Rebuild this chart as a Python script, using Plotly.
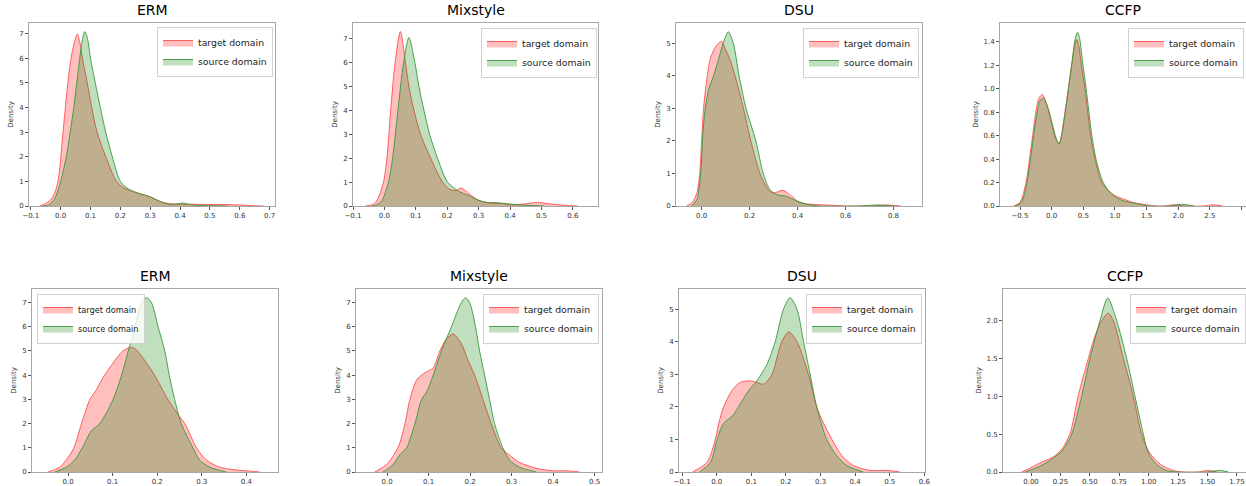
import plotly.graph_objects as go

W, H = 1246, 486

titles = ["ERM", "Mixstyle", "DSU", "CCFP", "ERM", "Mixstyle", "DSU", "CCFP"]
legend_names = ["target domain", "source domain"]

# ---- Panel 1: ERM (top) ----
erm1_tgt_x = [-0.07, -0.05, -0.03, -0.015, -0.005, 0.005, 0.015, 0.025, 0.035, 0.045, 0.056, 0.065, 0.073, 0.089, 0.104, 0.122, 0.151, 0.187, 0.21, 0.237, 0.265, 0.298, 0.33, 0.36, 0.4, 0.45, 0.5, 0.55, 0.6, 0.65, 0.68]
erm1_tgt_y = [0, 0.1, 0.3, 0.7, 1.3, 2.6, 3.9, 5.1, 6.0, 6.6, 6.98, 6.6, 6.0, 5.0, 4.0, 3.0, 2.0, 1.0, 0.75, 0.6, 0.5, 0.38, 0.2, 0.1, 0.08, 0.07, 0.06, 0.06, 0.04, 0.01, 0]
erm1_src_x = [-0.06, -0.04, -0.02, 0.0, 0.01, 0.019, 0.032, 0.044, 0.054, 0.064, 0.072, 0.081, 0.09, 0.1, 0.116, 0.133, 0.151, 0.173, 0.2, 0.226, 0.265, 0.298, 0.34, 0.37, 0.39, 0.41, 0.43, 0.47, 0.52, 0.56]
erm1_src_y = [0, 0.05, 0.3, 1.0, 1.5, 2.0, 3.0, 4.0, 5.0, 6.0, 6.7, 7.08, 6.8, 6.0, 5.0, 4.0, 3.0, 2.0, 1.0, 0.7, 0.5, 0.38, 0.15, 0.06, 0.08, 0.12, 0.06, 0.02, 0.01, 0]

# ---- Panel 2: Mixstyle (top) ----
mix1_tgt_x = [-0.06, -0.04, -0.025, -0.003, 0.008, 0.02, 0.034, 0.051, 0.067, 0.078, 0.094, 0.115, 0.147, 0.185, 0.207, 0.228, 0.244, 0.271, 0.298, 0.336, 0.379, 0.4, 0.454, 0.487, 0.519, 0.573, 0.615]
mix1_tgt_y = [0, 0.05, 0.2, 1.0, 2.0, 4.0, 6.0, 7.3, 6.0, 5.0, 4.0, 3.0, 2.0, 1.0, 0.7, 0.65, 0.75, 0.5, 0.25, 0.12, 0.1, 0.05, 0.1, 0.15, 0.1, 0.03, 0]
mix1_src_x = [-0.04, -0.025, -0.009, 0.013, 0.026, 0.043, 0.061, 0.078, 0.097, 0.11, 0.126, 0.144, 0.169, 0.201, 0.239, 0.266, 0.298, 0.325, 0.357, 0.4, 0.454, 0.51]
mix1_src_y = [0, 0.05, 0.2, 1.0, 2.0, 4.0, 6.0, 7.05, 6.0, 5.0, 4.0, 3.0, 2.0, 1.0, 0.6, 0.45, 0.25, 0.15, 0.14, 0.08, 0.03, 0]

# ---- Panel 3: DSU (top) ----
dsu1_tgt_x = [-0.063, -0.04, -0.02, -0.008, 0.0, 0.008, 0.02, 0.035, 0.055, 0.07, 0.083, 0.1, 0.118, 0.139, 0.174, 0.205, 0.243, 0.278, 0.3, 0.34, 0.375, 0.41, 0.465, 0.55, 0.6, 0.7, 0.77, 0.83]
dsu1_tgt_y = [0, 0.1, 0.4, 1.0, 2.0, 3.0, 3.8, 4.5, 4.85, 5.0, 5.05, 4.8, 4.5, 4.0, 3.0, 2.0, 1.0, 0.5, 0.4, 0.48, 0.3, 0.1, 0.05, 0.02, 0, 0, 0.03, 0]
dsu1_src_x = [-0.042, -0.02, -0.005, 0.005, 0.015, 0.03, 0.05, 0.07, 0.09, 0.111, 0.132, 0.156, 0.185, 0.226, 0.257, 0.285, 0.313, 0.354, 0.382, 0.44, 0.49, 0.65, 0.73, 0.8]
dsu1_src_y = [0, 0.2, 0.9, 2.2, 3.0, 3.6, 4.0, 4.5, 5.0, 5.35, 5.0, 4.0, 3.0, 2.0, 1.0, 0.5, 0.35, 0.3, 0.2, 0.05, 0, 0, 0.03, 0]

# ---- Panel 4: CCFP (top) ----
ccfp1_tgt_x = [-0.6, -0.5, -0.405, -0.35, -0.3, -0.25, -0.2, -0.147, -0.08, 0.0, 0.06, 0.116, 0.16, 0.21, 0.263, 0.316, 0.36, 0.395, 0.43, 0.47, 0.526, 0.616, 0.684, 0.79, 0.92, 1.03, 1.13, 1.29, 1.5, 1.66, 1.8, 1.92, 2.1, 2.4, 2.55, 2.7]
ccfp1_tgt_y = [0, 0.03, 0.2, 0.4, 0.6, 0.8, 0.92, 0.95, 0.87, 0.7, 0.58, 0.53, 0.62, 0.8, 1.0, 1.2, 1.36, 1.42, 1.36, 1.2, 1.0, 0.6, 0.4, 0.2, 0.12, 0.08, 0.06, 0.03, 0.01, 0, 0, 0.01, 0, 0, 0.01, 0]
ccfp1_src_x = [-0.58, -0.48, -0.39, -0.335, -0.285, -0.235, -0.185, -0.13, -0.06, 0.02, 0.07, 0.12, 0.165, 0.215, 0.27, 0.325, 0.37, 0.41, 0.445, 0.49, 0.545, 0.635, 0.7, 0.815, 0.95, 1.1, 1.34, 1.55, 1.85, 2.05, 2.25]
ccfp1_src_y = [0, 0.03, 0.2, 0.4, 0.6, 0.78, 0.9, 0.92, 0.84, 0.68, 0.58, 0.53, 0.62, 0.8, 1.02, 1.24, 1.42, 1.48, 1.42, 1.22, 1.0, 0.6, 0.4, 0.2, 0.1, 0.05, 0.02, 0, 0, 0.015, 0]

# ---- Panel 5: ERM (bottom) ----
erm2_tgt_x = [-0.045, -0.019, -0.004, 0.013, 0.03, 0.049, 0.06, 0.082, 0.101, 0.123, 0.142, 0.153, 0.176, 0.194, 0.224, 0.25, 0.262, 0.288, 0.31, 0.34, 0.37, 0.4, 0.43]
erm2_tgt_y = [0, 0.2, 0.5, 1.0, 2.0, 3.0, 3.3, 4.0, 4.5, 5.0, 5.15, 5.05, 4.5, 4.0, 3.0, 2.3, 2.0, 1.0, 0.5, 0.2, 0.1, 0.05, 0]
erm2_src_x = [-0.03, -0.004, 0.015, 0.032, 0.052, 0.071, 0.101, 0.12, 0.135, 0.15, 0.165, 0.176, 0.187, 0.202, 0.217, 0.227, 0.239, 0.254, 0.28, 0.295, 0.318, 0.355]
erm2_src_y = [0, 0.2, 0.5, 1.0, 1.7, 2.0, 3.0, 4.0, 5.0, 6.0, 7.0, 7.2, 7.0, 6.0, 5.0, 4.0, 3.0, 2.0, 1.0, 0.5, 0.2, 0]

# ---- Panel 6: Mixstyle (bottom) ----
mix2_tgt_x = [-0.03, -0.002, 0.026, 0.043, 0.055, 0.071, 0.091, 0.111, 0.127, 0.143, 0.159, 0.179, 0.195, 0.211, 0.231, 0.251, 0.275, 0.295, 0.319, 0.36, 0.4, 0.432, 0.464]
mix2_tgt_y = [0, 0.3, 1.0, 2.0, 3.0, 3.8, 4.1, 4.3, 5.0, 5.5, 5.7, 5.3, 4.6, 4.0, 3.0, 2.0, 1.0, 0.7, 0.4, 0.15, 0.05, 0.05, 0]
mix2_src_x = [-0.01, 0.014, 0.03, 0.047, 0.067, 0.083, 0.095, 0.111, 0.131, 0.155, 0.179, 0.189, 0.199, 0.213, 0.223, 0.235, 0.247, 0.259, 0.279, 0.295, 0.319, 0.36]
mix2_src_y = [0, 0.3, 0.7, 1.0, 2.0, 3.0, 3.3, 4.0, 5.0, 6.0, 7.0, 7.2, 7.0, 6.0, 5.0, 4.0, 3.0, 2.0, 1.0, 0.5, 0.2, 0]

# ---- Panel 7: DSU (bottom) ----
dsu2_tgt_x = [-0.07, -0.028, -0.004, 0.006, 0.02, 0.044, 0.068, 0.097, 0.116, 0.136, 0.16, 0.174, 0.188, 0.208, 0.232, 0.265, 0.289, 0.309, 0.333, 0.362, 0.395, 0.443, 0.491, 0.53]
dsu2_tgt_y = [0, 0.3, 1.0, 1.5, 2.0, 2.5, 2.75, 2.8, 2.75, 2.7, 3.0, 3.5, 4.0, 4.3, 4.0, 3.0, 2.0, 1.5, 1.0, 0.5, 0.2, 0.05, 0.05, 0]
dsu2_src_x = [-0.05, -0.018, 0.001, 0.02, 0.044, 0.063, 0.092, 0.116, 0.145, 0.169, 0.193, 0.212, 0.232, 0.251, 0.27, 0.289, 0.318, 0.347, 0.376, 0.424]
dsu2_src_y = [0, 0.3, 1.0, 1.5, 1.7, 2.0, 2.5, 2.8, 3.3, 4.0, 5.0, 5.35, 5.0, 4.0, 3.0, 2.0, 1.0, 0.5, 0.2, 0]

# ---- Panel 8: CCFP (bottom) ----
ccfp2_tgt_x = [-0.08, -0.01, 0.048, 0.119, 0.19, 0.26, 0.33, 0.4, 0.487, 0.544, 0.6, 0.657, 0.7, 0.785, 0.87, 0.94, 1.01, 1.1, 1.21, 1.295, 1.42, 1.5, 1.58]
ccfp2_tgt_y = [0, 0.05, 0.1, 0.15, 0.2, 0.3, 0.5, 1.0, 1.5, 1.8, 2.0, 2.1, 2.0, 1.5, 1.0, 0.5, 0.25, 0.1, 0.02, 0, 0, 0.02, 0]
ccfp2_src_x = [-0.05, 0.034, 0.105, 0.204, 0.275, 0.346, 0.43, 0.501, 0.586, 0.652, 0.728, 0.813, 0.884, 0.955, 0.997, 1.068, 1.15, 1.24, 1.5, 1.6, 1.68]
ccfp2_src_y = [0, 0.05, 0.1, 0.2, 0.3, 0.5, 1.0, 1.5, 2.0, 2.3, 2.0, 1.5, 1.0, 0.5, 0.25, 0.1, 0.02, 0, 0, 0.02, 0]

panels = [
    (erm1_tgt_x, erm1_tgt_y, erm1_src_x, erm1_src_y),
    (mix1_tgt_x, mix1_tgt_y, mix1_src_x, mix1_src_y),
    (dsu1_tgt_x, dsu1_tgt_y, dsu1_src_x, dsu1_src_y),
    (ccfp1_tgt_x, ccfp1_tgt_y, ccfp1_src_x, ccfp1_src_y),
    (erm2_tgt_x, erm2_tgt_y, erm2_src_x, erm2_src_y),
    (mix2_tgt_x, mix2_tgt_y, mix2_src_x, mix2_src_y),
    (dsu2_tgt_x, dsu2_tgt_y, dsu2_src_x, dsu2_src_y),
    (ccfp2_tgt_x, ccfp2_tgt_y, ccfp2_src_x, ccfp2_src_y),
]

# ---- layout (pixel boxes of each axes: left, right, top, bottom) ----
boxes = [
    (29, 275, 23, 206), (353, 598, 23, 206), (676, 922, 23, 206), (1000, 1246, 23, 206),
    (32, 278, 289, 472), (356, 602, 289, 472), (679, 925, 289, 472), (1003, 1246, 289, 472),
]
xranges = [(-0.106, 0.718), (-0.1, 0.68), (-0.107, 0.919), (-0.816, 3.07),
           (-0.081, 0.471), (-0.075, 0.518), (-0.109, 0.602), (-0.238, 1.827)]
yranges = [(0, 7.43), (0, 7.66), (0, 5.62), (0, 1.56), (0, 7.56), (0, 7.56), (0, 5.62), (0, 2.42)]
xticks = [(-0.1, 0.1, ".1f"), (-0.1, 0.1, ".1f"), (0.0, 0.2, ".1f"), (-0.5, 0.5, ".1f"),
          (0.0, 0.1, ".1f"), (0.0, 0.1, ".1f"), (-0.1, 0.1, ".1f"), (0.0, 0.25, ".2f")]
yticks = [(1, "d"), (1, "d"), (1, "d"), (0.2, ".1f"), (1, "d"), (1, "d"), (1, "d"), (0.5, ".1f")]
legend_boxes = [(157, 27), (481, 28), (803, 28), (1128, 28), (37, 294), (483, 294), (806, 294), (1130, 294)]
legend_sizes = [9.3, 9.3, 9.3, 9.3, 8.2, 9.3, 9.3, 9.3]

RED_FILL = "rgba(255,0,0,0.25)"
GREEN_FILL = "rgba(0,128,0,0.25)"
RED_LINE = "rgba(255,80,80,0.9)"
GREEN_LINE = "rgba(60,150,60,0.9)"
SPINE = "#a6a6a6"
FONT = "DejaVu Sans"

fig = go.Figure()
layout = dict(
    width=W, height=H, margin=dict(l=0, r=0, t=0, b=0, autoexpand=False),
    paper_bgcolor="white", plot_bgcolor="white",
    font=dict(family=FONT, color="#222"),
    annotations=[],
)

for i, (tx, ty, sx, sy) in enumerate(panels):
    n = i + 1
    xa = "x" if n == 1 else f"x{n}"
    ya = "y" if n == 1 else f"y{n}"
    lg = "legend" if n == 1 else f"legend{n}"
    fig.add_trace(go.Scatter(x=tx, y=ty, mode="lines", line=dict(color=RED_LINE, width=1, shape="spline", smoothing=0.8),
                             fill="tozeroy", fillcolor=RED_FILL, name=legend_names[0], xaxis=xa, yaxis=ya, legend=lg))
    fig.add_trace(go.Scatter(x=sx, y=sy, mode="lines", line=dict(color=GREEN_LINE, width=1, shape="spline", smoothing=0.8),
                             fill="tozeroy", fillcolor=GREEN_FILL, name=legend_names[1], xaxis=xa, yaxis=ya, legend=lg))
    l, r, t, b = boxes[i]
    x0, dx, xf = xticks[i]
    dy, yf = yticks[i]
    axis_common = dict(showgrid=False, zeroline=False, showline=True, linecolor=SPINE, linewidth=1, mirror=True,
                       ticks="outside", tickcolor="#555", tickwidth=1, automargin=False,
                       tickfont=dict(size=7, family=FONT, color="#333"))
    layout["xaxis" if n == 1 else f"xaxis{n}"] = dict(
        domain=[l / W, min(r / W, 1.0)], range=list(xranges[i]), anchor=ya,
        tick0=x0, dtick=dx, tickformat=xf, ticklen=3, **axis_common)
    layout["yaxis" if n == 1 else f"yaxis{n}"] = dict(
        domain=[1 - b / H, 1 - t / H], range=list(yranges[i]), anchor=xa,
        tick0=0, dtick=dy, tickformat=yf, ticklen=3,
        title=dict(text="Density", font=dict(size=7, family=FONT, color="#333"), standoff=4), **axis_common)
    lx, ly = legend_boxes[i]
    layout[lg] = dict(x=lx / W, y=1 - ly / H, xanchor="left", yanchor="top", xref="paper", yref="paper",
                      bgcolor="rgba(255,255,255,0.8)", bordercolor="#d0d0d0", borderwidth=1,
                      font=dict(size=legend_sizes[i], family=FONT, color="#222"), tracegroupgap=0, itemwidth=30)
    layout["annotations"].append(dict(text=titles[i], x=(l + r) / 2 / W, y=1 - (t - 3) / H, xref="paper", yref="paper",
                                      xanchor="center", yanchor="bottom", showarrow=False,
                                      font=dict(size=14, family=FONT, color="#000")))

fig.update_layout(**layout)
fig.write_html("out.html", config={"displayModeBar": False},
               post_script="document.body.style.margin='0';document.body.style.overflow='hidden';")
